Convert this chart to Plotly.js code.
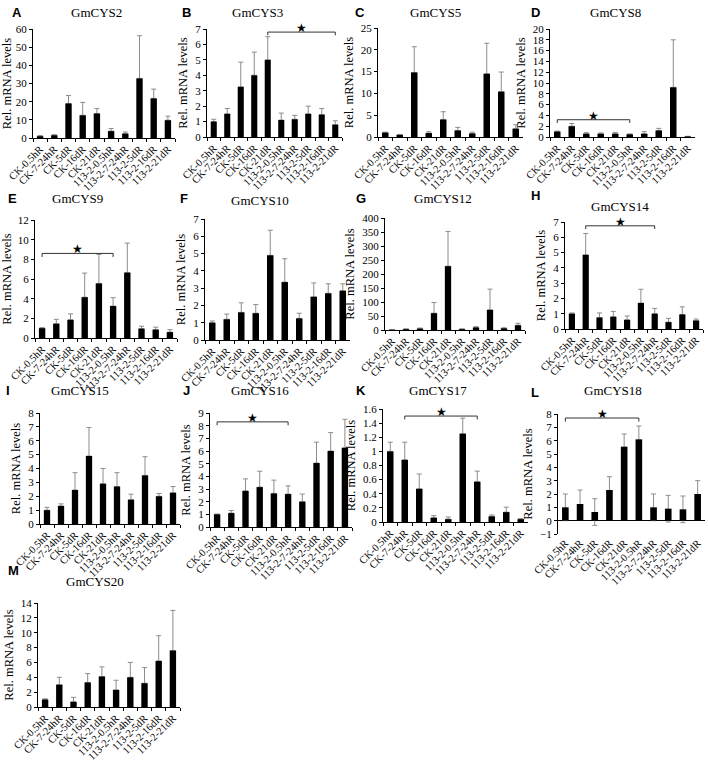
<!DOCTYPE html>
<html><head><meta charset="utf-8">
<script src="https://cdn.plot.ly/plotly-3.0.1.min.js"></script>
<style>html,body{margin:0;padding:0;background:#fff}#chart{width:708px;height:768px}</style>
</head><body><div id="chart"></div>
<script>
const categories = ["CK-0.5hR","CK-7-24hR","CK-5dR","CK-16dR","CK-21dR","113-2-0.5hR","113-2-7-24hR","113-2-5dR","113-2-16dR","113-2-21dR"];

const genes = ["GmCYS2","GmCYS3","GmCYS5","GmCYS8","GmCYS9","GmCYS10","GmCYS12","GmCYS14","GmCYS15","GmCYS16","GmCYS17","GmCYS18","GmCYS20"];
const panelLetters = ["A","B","C","D","E","F","G","H","I","J","K","L","M"];

const gmcys2Mean  = [1,1.5,19,12.5,13.5,3.8,2.4,32.8,21.8,9.8];
const gmcys2Err   = [0.4,0.3,4.4,7.1,2.7,1.4,0.9,23.5,5.1,2.2];
const gmcys3Mean  = [1,1.5,3.25,4,5,1.1,1.15,1.5,1.45,0.8];
const gmcys3Err   = [0.15,0.35,1.6,1.5,1.5,0.45,0.25,0.5,0.4,0.25];
const gmcys5Mean  = [1,0.5,14.8,0.9,4,1.5,0.8,14.5,10.4,1.9];
const gmcys5Err   = [0.1,0.05,5.9,0.3,1.8,0.7,0.3,7,4.5,0.9];
const gmcys8Mean  = [1,2,0.6,0.6,0.6,0.5,0.6,1.2,9.2,0.1];
const gmcys8Err   = [0.1,0.5,0.2,0.15,0.25,0.05,0.4,0.4,8.8,0.02];
const gmcys9Mean  = [1,1.45,1.85,4.15,5.55,3.25,6.65,0.95,0.85,0.6];
const gmcys9Err   = [0.05,0.45,0.6,2.45,2.95,0.85,3,0.25,0.25,0.25];
const gmcys10Mean = [1,1.2,1.6,1.55,4.9,3.35,1.25,2.5,2.7,2.85];
const gmcys10Err  = [0.1,0.3,0.55,0.5,1.45,1.35,0.3,0.8,0.55,0.4];
const gmcys12Mean = [1,3,5,60,228,3,9,72,6,17];
const gmcys12Err  = [0.5,1,2,38,124,1,3,74,2,7];
const gmcys14Mean = [1,4.85,0.75,0.8,0.6,1.7,1,0.45,0.95,0.55];
const gmcys14Err  = [0.05,1.4,0.3,0.35,0.25,0.9,0.35,0.25,0.5,0.1];
const gmcys15Mean = [1,1.3,2.45,4.9,2.9,2.7,1.75,3.5,2,2.25];
const gmcys15Err  = [0.2,0.15,1.25,2.05,1.1,1,0.4,1.35,0.2,0.45];
const gmcys16Mean = [1,1.1,2.85,3.15,2.65,2.6,2,5.05,6,6.25];
const gmcys16Err  = [0.02,0.2,0.95,1.25,1.05,0.65,0.6,1.65,1.45,2.25];
const gmcys17Mean = [1,0.88,0.47,0.06,0.04,1.25,0.57,0.08,0.14,0.04];
const gmcys17Err  = [0.13,0.25,0.21,0.03,0.03,0.22,0.15,0.02,0.07,0.01];
const gmcys18Mean = [1,1.25,0.65,2.3,5.55,6.1,1,0.9,0.85,2];
const gmcys18Err  = [1,1.05,1,1,0.95,1,1,1,1,1];
const gmcys20Mean = [1,3,0.7,3.3,4.1,2.3,4,3.2,6.2,7.6];
const gmcys20Err  = [0.1,1,0.6,1.2,1.3,1.3,2,2.1,3.4,5.4];

const means = [gmcys2Mean,gmcys3Mean,gmcys5Mean,gmcys8Mean,gmcys9Mean,gmcys10Mean,gmcys12Mean,gmcys14Mean,gmcys15Mean,gmcys16Mean,gmcys17Mean,gmcys18Mean,gmcys20Mean];
const errs  = [gmcys2Err,gmcys3Err,gmcys5Err,gmcys8Err,gmcys9Err,gmcys10Err,gmcys12Err,gmcys14Err,gmcys15Err,gmcys16Err,gmcys17Err,gmcys18Err,gmcys20Err];
const errBothWays = [false,false,false,false,false,false,false,false,false,false,false,true,false];

// y-axis ranges and tick steps
const yMin  = [0,0,0,0,0,0,0,0,0,0,0,-1,0];
const yMax  = [60,7,25,20,12,7,400,7,8,9,1.6,8,14];
const yStep = [10,1,5,2,2,1,50,1,1,1,0.2,1,2];

// significance brackets: panel index, from category, to category, bracket level
const bracketPanel = [1,3,4,7,9,10,11];
const bracketFrom  = [4,0,0,1,0,1,0];
const bracketTo    = [9,5,5,6,5,6,5];
const bracketLevel = [6.8,3.2,8.6,6.75,8.3,1.5,7.7];

// layout: plot boxes in pixels [left, right, top, bottom]
const boxes = [
  [33,175,29,138],[207,342,29,137],[378,523,28,137],[550,695,29,137],
  [35,177,220,338],[205,350,219,340],[385,525,218,330],[565,703,222,329],
  [40,180,413,524],[210,352,413,527],[383,528,409,522],[558,705,414,534],
  [38,180,603,707]
];
const titlePos  = [[97,12],[257,12],[435,12],[615,12],[77,199],[260,200],[443,199],[620,206],[80,390],[260,390],[438,390],[613,390],[95,581]];
const letterPos = [[10,12],[180,12],[353,12],[529,12],[6,198],[178,198],[354,198],[529,196],[4,390],[181,390],[354,390],[529,392],[6,570]];

const W = 708, H = 768;
const fx = p => p / W, fy = p => 1 - p / H;

const data = [];
const layout = {
  width: W, height: H, margin: {l:0,r:0,t:0,b:0},
  paper_bgcolor: "#fff", plot_bgcolor: "#fff",
  showlegend: false, barmode: "overlay",
  font: {family: "Liberation Serif, Times New Roman, serif", color: "#000"},
  annotations: [], shapes: []
};

for (let i = 0; i < genes.length; i++) {
  const sfx = i === 0 ? "" : String(i + 1);
  const xa = "x" + sfx, ya = "y" + sfx;
  const b = boxes[i];
  const errCfg = {
    type: "data", array: errs[i], symmetric: errBothWays[i],
    arrayminus: errBothWays[i] ? errs[i] : errs[i].map(() => 0),
    color: "#8c8c8c", thickness: 1, width: 2.5
  };
  // error bars drawn first, then bars on top (hides whisker inside the bar)
  data.push({type: "bar", x: categories, y: means[i], xaxis: xa, yaxis: ya,
    marker: {color: "rgba(0,0,0,0)"}, error_y: errCfg, hoverinfo: "skip", width: 0.45});
  data.push({type: "bar", x: categories, y: means[i], xaxis: xa, yaxis: ya,
    marker: {color: "#000", line: {width: 0}}, width: 0.45});

  layout["xaxis" + sfx] = {
    domain: [fx(b[0]), fx(b[1])], anchor: ya, type: "category",
    range: [-0.5, 9.5], showgrid: false, zeroline: false,
    showline: !errBothWays[i], linecolor: "#000", linewidth: 1,
    ticks: errBothWays[i] ? "" : "outside", tickson: "boundaries", ticklen: 3, tickcolor: "#000",
    tickangle: -45, tickfont: {family: "Liberation Serif, serif", size: 10.5, color: "#000"},
    fixedrange: true
  };
  layout["yaxis" + sfx] = {
    domain: [fy(b[3]), fy(b[2])], anchor: xa,
    range: [yMin[i], yMax[i]], dtick: yStep[i], tick0: 0,
    showgrid: false, zeroline: errBothWays[i], zerolinecolor: "#000", zerolinewidth: 1,
    showline: true, linecolor: "#000", linewidth: 1,
    ticks: "outside", ticklen: 3, tickcolor: "#000",
    tickfont: {family: "Liberation Serif, serif", size: 11, color: "#000"},
    title: {text: "Rel. mRNA levels", font: {family: "Liberation Serif, serif", size: 12.5, color: "#000"}, standoff: 4},
    fixedrange: true
  };
  layout.annotations.push({text: genes[i], xref: "paper", yref: "paper",
    x: fx(titlePos[i][0]), y: fy(titlePos[i][1]), xanchor: "center", yanchor: "middle",
    showarrow: false, font: {family: "Liberation Serif, serif", size: 13, color: "#000"}});
  layout.annotations.push({text: "<b>" + panelLetters[i] + "</b>", xref: "paper", yref: "paper",
    x: fx(letterPos[i][0]), y: fy(letterPos[i][1]), xanchor: "left", yanchor: "middle",
    showarrow: false, font: {family: "Liberation Sans, Arial, sans-serif", size: 13, color: "#000"}});
}

for (let k = 0; k < bracketPanel.length; k++) {
  const i = bracketPanel[k];
  const sfx = i === 0 ? "" : String(i + 1);
  const xa = "x" + sfx, ya = "y" + sfx;
  const lv = bracketLevel[k];
  const drop = 0.03 * (yMax[i] - yMin[i]);
  const a = bracketFrom[k], c = bracketTo[k];
  const ln = {color: "#333", width: 1};
  layout.shapes.push({type: "line", xref: xa, yref: ya, x0: a, x1: c, y0: lv, y1: lv, line: ln});
  layout.shapes.push({type: "line", xref: xa, yref: ya, x0: a, x1: a, y0: lv, y1: lv - drop, line: ln});
  layout.shapes.push({type: "line", xref: xa, yref: ya, x0: c, x1: c, y0: lv, y1: lv - drop, line: ln});
  layout.annotations.push({text: "★", xref: xa, yref: ya, x: (a + c) / 2, y: lv,
    xanchor: "center", yanchor: "bottom", yshift: -5, showarrow: false,
    font: {family: "DejaVu Sans, sans-serif", size: 12, color: "#000"}});
}

Plotly.newPlot("chart", data, layout, {displayModeBar: false, staticPlot: true});
</script></body></html>
